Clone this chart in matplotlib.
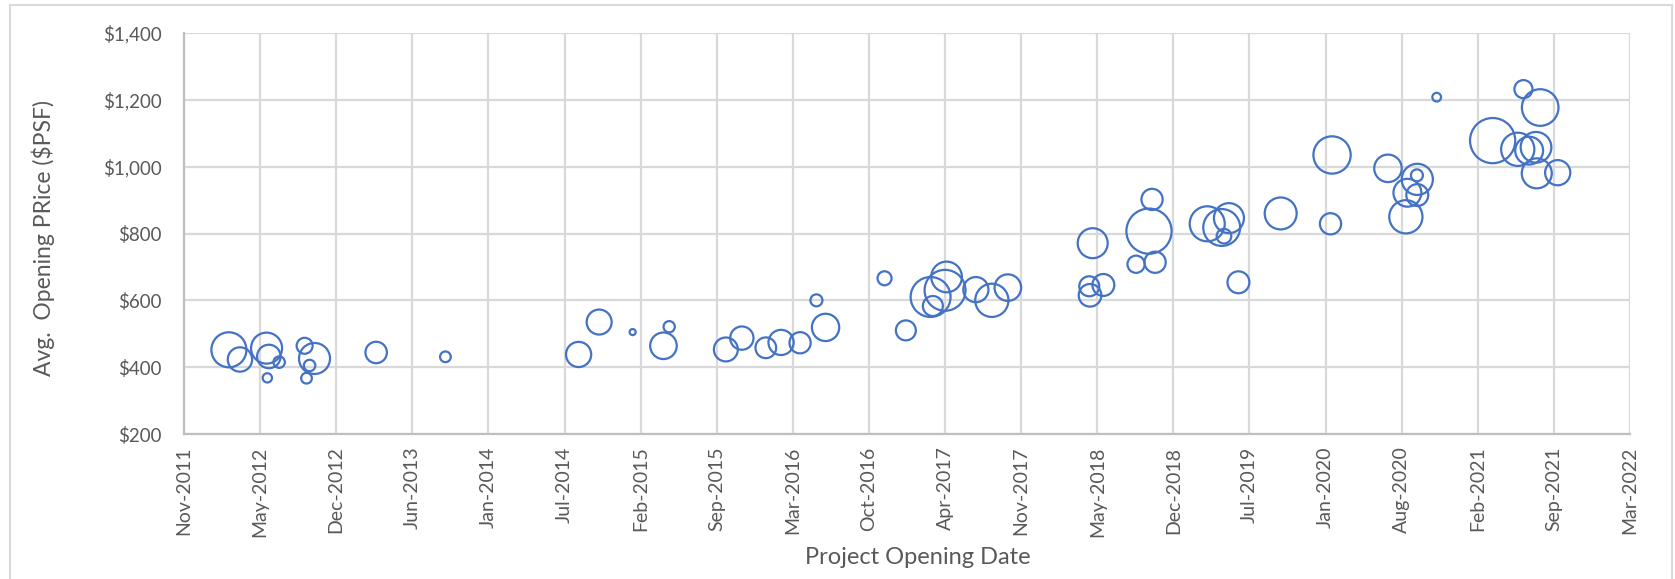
import numpy as np
import pandas as pd
import matplotlib
matplotlib.use('Agg')
import matplotlib.pyplot as plt
import matplotlib.dates as mdates
from matplotlib.patches import Rectangle
from matplotlib.ticker import FuncFormatter

# Project opening dates, avg opening price ($ psf) and bubble size (units)
opening_dates = [
    '2012-02-29', '2012-03-29', '2012-06-07', '2012-06-13', '2012-06-09', '2012-07-10',
    '2012-09-15', '2012-10-11', '2012-09-28', '2012-09-20', '2013-03-22', '2013-09-20',
    '2014-09-05', '2014-10-29', '2015-01-25', '2015-04-16', '2015-05-01', '2015-09-27',
    '2015-11-08', '2016-01-10', '2016-02-19', '2016-04-09', '2016-05-22', '2016-06-15',
    '2016-11-17', '2017-01-12', '2017-03-18', '2017-03-24', '2017-04-29', '2017-04-25',
    '2017-07-15', '2017-08-26', '2017-10-07', '2018-05-18', '2018-05-09', '2018-05-11',
    '2018-06-15', '2018-10-13', '2018-10-21', '2018-09-09', '2018-10-29', '2019-03-15',
    '2019-04-22', '2019-05-11', '2019-04-28', '2019-06-05', '2019-09-24', '2020-02-06',
    '2020-02-02', '2020-07-02', '2020-11-07', '2020-09-17', '2020-09-16', '2020-08-22',
    '2020-09-17', '2020-08-18', '2021-04-03', '2021-06-08', '2021-07-08', '2021-07-26',
    '2021-07-28', '2021-09-21', '2021-06-23', '2021-08-06',
]
avg_price = [
    452, 423, 457, 432, 368, 415,
    464, 426, 405, 367, 444, 431,
    438, 535, 505, 464, 521, 453,
    487, 458, 474, 473, 600, 519,
    666, 510, 610, 583, 670, 630,
    632, 600, 638, 771, 642, 615,
    646, 807, 902, 708, 714, 829,
    818, 846, 792, 654, 860, 1035,
    829, 995, 1208, 962, 974, 922,
    915, 850, 1078, 1052, 1048, 1058,
    980, 982, 1232, 1177,
]
units = [
    600, 290, 470, 270, 42, 64,
    125, 470, 64, 56, 225, 56,
    310, 305, 18, 345, 62, 280,
    265, 210, 310, 220, 70, 365,
    96, 195, 780, 195, 460, 820,
    310, 540, 345, 440, 195, 250,
    235, 1000, 220, 145, 220, 600,
    665, 440, 105, 235, 500, 680,
    220, 370, 37, 475, 70, 380,
    235, 540, 1000, 540, 380, 460,
    440, 310, 160, 655,
]

y_ticks = [200, 400, 600, 800, 1000, 1200, 1400]

grey_text = '#595959'
grid_col = '#d9d9d9'
bubble_col = '#4472C4'

plt.rcParams['font.family'] = ['Lato', 'DejaVu Sans']

fig = plt.figure(figsize=(16.75, 5.79), dpi=100)
ax = fig.add_axes([184 / 1675, 1 - 434 / 579, (1630 - 184) / 1675, (434 - 33) / 579])

x = pd.to_datetime(opening_dates)
ax.scatter(x, avg_price, s=np.array(units) * 1.06, facecolors='none',
           edgecolors=bubble_col, linewidths=1.6, zorder=3)

# Excel style date axis: major unit of 200 days
start = pd.Timestamp('2011-11-03')
x_ticks = [start + pd.Timedelta(days=200 * k) for k in range(20)]
ax.set_xlim(x_ticks[0], x_ticks[-1])
ax.set_xticks(x_ticks)
ax.xaxis.set_major_formatter(mdates.DateFormatter('%b-%Y'))
ax.set_ylim(200, 1400)
ax.set_yticks(y_ticks)
ax.yaxis.set_major_formatter(FuncFormatter(lambda v, p: f'${v:,.0f}'))

ax.grid(True, color=grid_col, linewidth=1.6)
ax.set_axisbelow(True)
for side in ['top', 'right']:
    ax.spines[side].set_visible(False)
for side in ['left', 'bottom']:
    ax.spines[side].set_color('#bfbfbf')
    ax.spines[side].set_linewidth(1.6)

ax.tick_params(axis='both', length=0, colors=grey_text, labelsize=13.5)
ax.tick_params(axis='x', labelsize=14)
ax.tick_params(axis='y', pad=16)
ax.tick_params(axis='x', pad=9, labelrotation=90)

ax.set_xlabel('Project Opening Date', color=grey_text, fontsize=17, va='center')
ax.set_ylabel('Avg.  Opening PRice ($PSF)', color=grey_text, fontsize=16.5, va='center')
ax.xaxis.set_label_coords((918 - 184) / 1446, (434 - 557) / 401)
ax.yaxis.set_label_coords((43 - 184) / 1446, 0.49)

# chart area border
fig.patches.append(Rectangle((10 / 1675, -0.05), (1672 - 10) / 1675, 1.05 - 5 / 579,
                             transform=fig.transFigure, fill=False,
                             edgecolor=grid_col, linewidth=1.5))

fig.savefig('out.png', dpi=100)
